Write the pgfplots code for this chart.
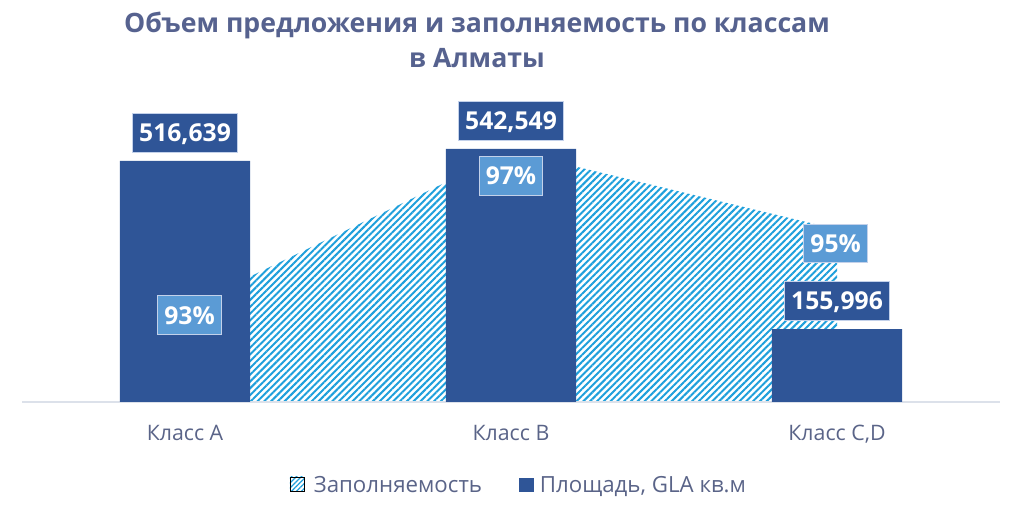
\documentclass[border=0pt]{standalone}
\usepackage{pgfplots}
\pgfplotsset{compat=1.18}
\usepackage{pgfplotstable}
\usetikzlibrary{patterns.meta}
\usepackage{fontspec}
\setmainfont{Open Sans}
\definecolor{barblue}{HTML}{2F5597}
\definecolor{pctblue}{HTML}{5B9BD5}
\definecolor{hatch}{HTML}{1E9FDB}
\definecolor{titlec}{HTML}{56628F}
\definecolor{labc}{HTML}{5A6488}
\definecolor{axisgray}{HTML}{DCE1EA}
\definecolor{boxedge}{HTML}{C3D1EA}

\pgfplotstableread{
x y
0 516639
1 542549
2 155996
}\bars
\pgfplotstableread{
x y dx dy
0 0.93 3.4 -5.6
1 0.97 0 -18.75
2 0.95 -1 -10.5
}\occ

\pgfplotsset{base/.style={scale only axis, width=733.5pt, height=226.5pt,
  xmin=-0.5, xmax=2.5, enlargelimits=false}}

\begin{document}
\begin{tikzpicture}
% area (secondary scale)
\begin{axis}[base, ymin=0.906, ymax=0.983, hide axis]
\addplot[draw=none, pattern={Lines[angle=45,distance=3.6pt,line width=1.5pt]}, pattern color=hatch]
  table[x=x,y=y]{\occ} \closedcycle;
\end{axis}
% bars
\begin{axis}[base, name=ax, ymin=0, ymax=647400, clip=false,
  axis x line=bottom, axis y line=none,
  x axis line style={-, draw=axisgray, line width=1.1pt},
  xtick={0,1,2}, xticklabels={Класс А, Класс B, {Класс C,D}},
  xtick style={draw=none}, major tick length=0pt,
  xticklabel style={anchor=base, yshift=-29.25pt, text=labc, font=\fontsize{16}{18}\selectfont},
  ]
\addplot[ybar, bar width=0.4, fill=barblue, draw=none,
  nodes near coords, point meta=y,
  /pgf/number format/.cd, fixed, precision=0, 1000 sep={,}, assume math mode=true,
  /pgfplots/.cd,
  every node near coord/.append style={anchor=south, yshift=6pt, fill=barblue, draw=boxedge, line width=0.6pt,
    text=white, font=\fontsize{18.5}{20}\bfseries, inner xsep=5pt, inner ysep=8.2pt,
    text height=13.2pt, text depth=0pt}]
  table[x=x,y=y]{\bars};
\end{axis}
% percent labels + legend
\begin{axis}[base, ymin=0.906, ymax=0.983, hide axis, clip=false,
  legend style={at={(0.5,0)}, anchor=center, yshift=-62.25pt, xshift=6pt,
    draw=none, fill=none, font=\fontsize{16.7}{18}\selectfont, text=labc,
    /tikz/every even column/.append style={column sep=26pt}},
  legend columns=2]
\addplot[draw=none, mark=none, forget plot,
  nodes near coords={\pgfmathprintnumber{\pgfplotspointmeta}\%},
  point meta={\thisrow{y}*100},
  visualization depends on={\thisrow{dx}\as\dx},
  visualization depends on={\thisrow{dy}\as\dy},
  /pgf/number format/.cd, fixed, precision=0, assume math mode=true,
  /pgfplots/.cd,
  every node near coord/.append style={anchor=center, xshift=\dx pt, yshift=\dy pt,
    fill=pctblue, draw=boxedge, line width=0.6pt, text=white,
    font=\fontsize{18.5}{20}\bfseries, inner xsep=5pt, inner ysep=8pt,
    text height=13.2pt, text depth=0pt}]
  table[x=x,y=y]{\occ};
\addlegendimage{legend image code/.code={\fill[pattern={Lines[angle=45,distance=2.6pt,line width=0.9pt]},pattern color=hatch] (0pt,-5pt) rectangle (10.5pt,6pt);}}
\addlegendentry{\hspace{5pt}Заполняемость}
\addlegendimage{legend image code/.code={\fill[barblue] (0pt,-5pt) rectangle (10pt,5pt);}}
\addlegendentry{\hspace{3pt}Площадь, GLA кв.м}
\end{axis}
\node[anchor=base, font=\fontsize{20}{24}\bfseries, text=titlec] at ([shift={(341.25pt,50.25pt)}]ax.north west) {Объем предложения и заполняемость по классам};
\node[anchor=base, font=\fontsize{20}{24}\bfseries, text=titlec] at ([shift={(341.25pt,24pt)}]ax.north west) {в Алматы};
\pgfresetboundingbox
\path[use as bounding box] ([shift={(-16.5pt,-90.75pt)}]ax.south west) rectangle ++(768pt,392.25pt);
\end{tikzpicture}
\end{document}
